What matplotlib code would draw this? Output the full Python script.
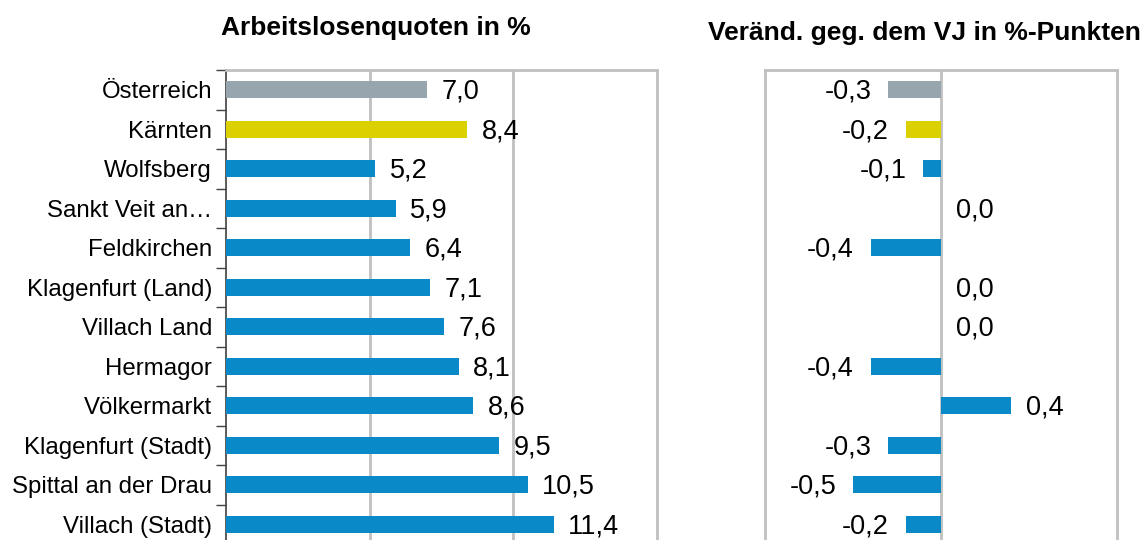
import matplotlib.pyplot as plt
import numpy as np

plt.rcParams['font.family'] = ['Liberation Sans', 'DejaVu Sans']

regions = ['Österreich', 'Kärnten', 'Wolfsberg', 'Sankt Veit an…', 'Feldkirchen',
           'Klagenfurt (Land)', 'Villach Land', 'Hermagor', 'Völkermarkt',
           'Klagenfurt (Stadt)', 'Spittal an der Drau', 'Villach (Stadt)']
quote = [7.0, 8.4, 5.2, 5.9, 6.4, 7.1, 7.6, 8.1, 8.6, 9.5, 10.5, 11.4]
change = [-0.3, -0.2, -0.1, 0.0, -0.4, 0.0, 0.0, -0.4, 0.4, -0.3, -0.5, -0.2]

GREY = '#97a6ae'
YELLOW = '#dbd000'
BLUE = '#0a89c8'
GRID = '#c0c0c0'
colors = [GREY, YELLOW] + [BLUE] * (len(regions) - 2)

def fmt(v):
    return ('%.1f' % v).replace('.', ',')

fig = plt.figure(figsize=(11.47, 5.4), dpi=100)
ax1 = fig.add_axes([226/1147, -4/540, 431/1147, 474/540])
ax2 = fig.add_axes([765/1147, -4/540, 352/1147, 474/540])

y = np.arange(len(regions))

# left panel
ax1.barh(y, quote, height=0.43, color=colors, zorder=3)
ax1.set_xlim(0, 15)
ax1.set_ylim(len(regions) - 0.5, -0.5)
ax1.set_xticks([5, 10])
ax1.xaxis.grid(True, color=GRID, linewidth=2, zorder=0)
ax1.tick_params(axis='x', length=0, labelbottom=False)
ax1.set_yticks(y)
ax1.set_yticklabels(regions, fontsize=17.3)
ax1.tick_params(axis='y', which='major', length=0, pad=10)
ax1.set_yticks(np.arange(-0.5, len(regions), 1), minor=True)
ax1.tick_params(axis='y', which='minor', length=7, width=1, color='#404040', direction='out')
for s in ['top', 'right']:
    ax1.spines[s].set_color(GRID)
    ax1.spines[s].set_linewidth(2)
ax1.spines['left'].set_color('#404040')
ax1.spines['left'].set_linewidth(1.2)
ax1.spines['bottom'].set_visible(False)
for yi, v in zip(y, quote):
    ax1.text(v + 0.5, yi + 0.05, fmt(v), va='center', ha='left', fontsize=19.5)

# right panel
ax2.barh(y, change, height=0.43, color=colors, zorder=3)
ax2.set_xlim(-1, 1)
ax2.set_ylim(len(regions) - 0.5, -0.5)
ax2.axvline(0, color=GRID, linewidth=2, zorder=2)
ax2.set_xticks([])
ax2.set_yticks([])
for s in ['top', 'right', 'left']:
    ax2.spines[s].set_color(GRID)
    ax2.spines[s].set_linewidth(2)
ax2.spines['bottom'].set_visible(False)
for yi, v in zip(y, change):
    if v < 0:
        ax2.text(v - 0.095, yi + 0.05, fmt(v), va='center', ha='right', fontsize=19.5)
    else:
        ax2.text(v + 0.085, yi + 0.05, fmt(v), va='center', ha='left', fontsize=19.5)

fig.text(376/1147, 1 - 28/540, 'Arbeitslosenquoten in %', fontsize=19,
         fontweight='bold', ha='center', va='center')
fig.text(924/1147, 1 - 33/540, 'Veränd. geg. dem VJ in %-Punkten', fontsize=19,
         fontweight='bold', ha='center', va='center')

fig.savefig('out.png', dpi=100)
